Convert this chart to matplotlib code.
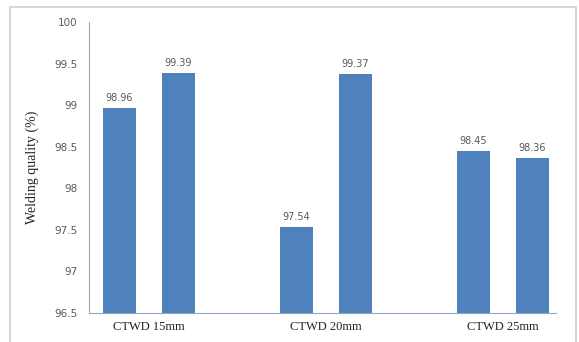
import numpy as np
import matplotlib.pyplot as plt
from matplotlib.patches import Rectangle

# welding quality for each contact-tip-to-work distance
categories = ['CTWD 15mm', 'CTWD 20mm', 'CTWD 25mm']
series_a = [98.96, 97.54, 98.45]
series_b = [99.39, 99.37, 98.36]
yticks = [96.5, 97, 97.5, 98, 98.5, 99, 99.5, 100]

barColor = '#4f81bd'
greyText = '#595959'

fig = plt.figure(figsize=(5.79, 3.42), dpi=100)
ax = fig.add_axes([0.1537, 0.0848, 0.8066, 0.851])

# grey frame around the whole chart area
fig.patches.append(Rectangle((10 / 579, -0.05), 566 / 579, 1.05 - 7 / 342,
                             transform=fig.transFigure, fill=False,
                             edgecolor='#d0d0d0', linewidth=1.2))

x = np.arange(len(categories))
off = 0.1667
w = 0.186
b1 = ax.bar(x - off, np.array(series_a) - 96.5, w, bottom=96.5, color=barColor)
b2 = ax.bar(x + off, np.array(series_b) - 96.5, w, bottom=96.5, color=barColor)

for bars, vals in [(b1, series_a), (b2, series_b)]:
    for bar, v in zip(bars, vals):
        ax.text(bar.get_x() + bar.get_width() / 2, v + 0.06, '%.2f' % v,
                ha='center', va='bottom', fontsize=7, color=greyText,
                family='DejaVu Sans')

ax.set_ylim(96.5, 100)
ax.set_xlim(-0.339, 2.30)
ax.set_yticks(yticks)
ax.set_yticklabels([('%g' % t) for t in yticks], fontsize=7.5, color=greyText)
ax.set_xticks(x)
ax.set_xticklabels(categories, fontsize=9, family='Liberation Serif',
                   color='#222222')
ax.tick_params(axis='both', length=0)
ax.tick_params(axis='y', pad=8)
ax.tick_params(axis='x', pad=6)

for s in ['top', 'right']:
    ax.spines[s].set_visible(False)
ax.spines['left'].set_color('#a6a6a6')
ax.spines['bottom'].set_color('#8fa8c8')
ax.spines['left'].set_linewidth(0.8)
ax.spines['bottom'].set_linewidth(0.8)

ax.set_ylabel('Welding quality (%)', fontsize=10, family='Liberation Serif',
              color='#222222', labelpad=11)

plt.savefig('out.png', dpi=100)
